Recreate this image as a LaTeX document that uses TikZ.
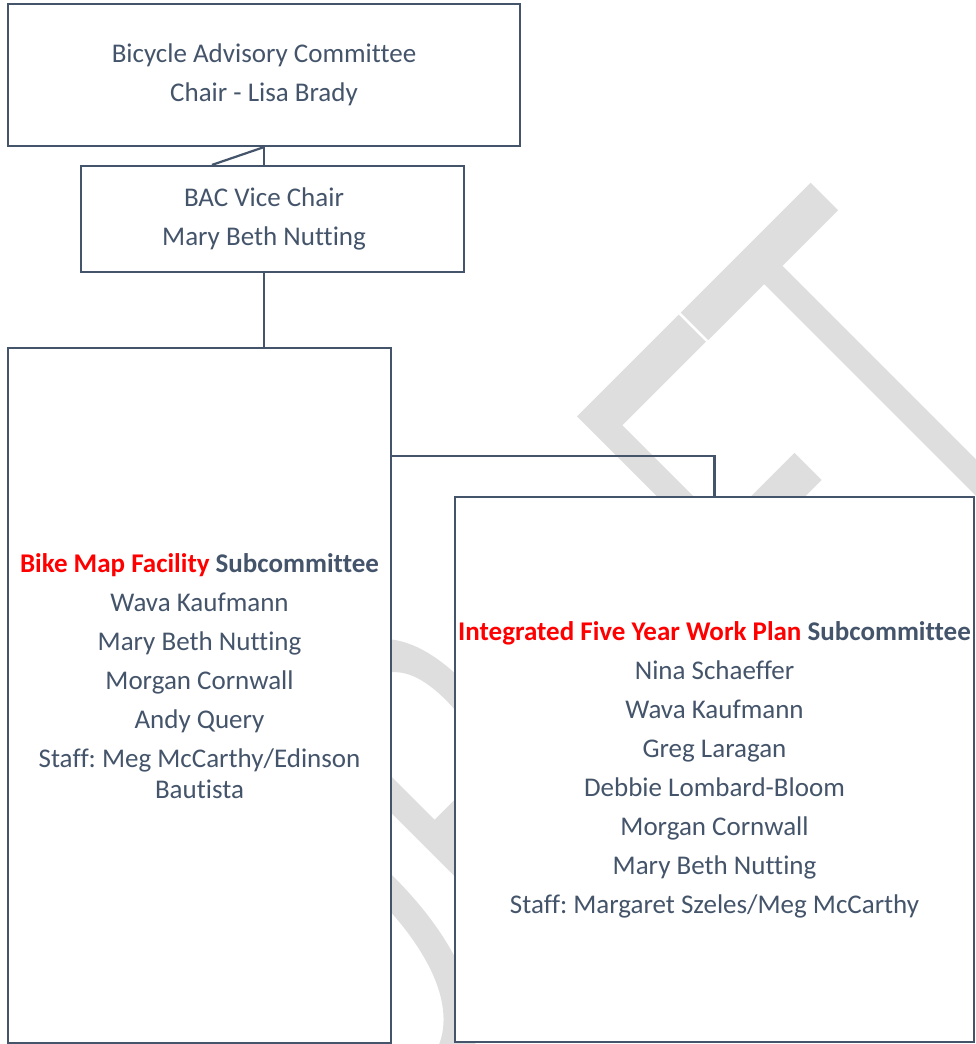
\documentclass[tikz,border=0pt]{standalone}
\usepackage{graphicx}
\usepackage{fontspec}
\setmainfont{Carlito}[Ligatures=NoCommon]
\newfontfamily\wmfont{Lato Light}[RawFeature={embolden=3}]
\definecolor{slate}{HTML}{44546A}
\definecolor{alert}{HTML}{FF0000}
\definecolor{wmgray}{HTML}{DEDEDE}
\frenchspacing
% one watermark letter, set in a slot of given width
\newcommand\wmletter[2]{\makebox[#1pt][c]{\scalebox{0.6}[1]{#2}}}

\begin{document}
\begin{tikzpicture}[x=1pt, y=-1pt,
        box/.style={draw=slate, fill=white, line width=2.2pt, text=slate, align=center,
            font=\fontsize{27}{39}\selectfont, inner sep=0pt},
        link/.style={draw=slate, line width=2.2pt}]
    \useasboundingbox (0,0) rectangle (976,1044);
    % watermark behind the boxes
    \begin{scope}
        \clip (0,0) rectangle (976,1044);
        \node[anchor=base west, rotate=45, inner sep=0pt, text=wmgray,
            font=\wmfont\fontsize{528}{528}\selectfont] (draft) at (368,1165)
            {\wmletter{231}{D}\wmletter{204}{R}\wmletter{217}{A}\wmletter{172}{F}\wmletter{183}{T}};
    \end{scope}
    \node[box, minimum width=512pt, minimum height=142pt] (chair) at (264,75)
        {Bicycle Advisory Committee\\Chair - Lisa Brady};
    \node[box, minimum width=383pt, minimum height=106pt] (vice) at (272.5,219)
        {BAC Vice Chair\hspace*{17pt}\\Mary Beth Nutting\hspace*{17pt}};
    \node[box, minimum width=383pt, minimum height=695pt] (bike) at (199.5,695.5)
        {\textbf{\textcolor{alert}{Bike Map Facility} Subcommittee}\\Wava Kaufmann\\Mary Beth Nutting\\Morgan Cornwall\\Andy Query\\Staff: Meg McCarthy/Edinson\\[-8pt]Bautista\\\mbox{}};
    \node[box, minimum width=519pt, minimum height=545pt] (plan) at (714.5,769.5)
        {\textbf{\textcolor{alert}{Integrated Five Year Work Plan} Subcommittee}\\Nina Schaeffer\\Wava Kaufmann\\Greg Laragan\\Debbie Lombard-Bloom\\Morgan Cornwall\\Mary Beth Nutting\\Staff: Margaret Szeles/Meg McCarthy};
    \draw[link] (chair.south) -- (chair.south |- vice.north);
    \draw[link] (chair.south) -- ([xshift=-60.5pt]vice.north);
    \draw[link] (chair.south |- vice.south) -- (chair.south |- bike.north);
    \draw[link] ([yshift=-109pt]bike.north east) -| (plan.north);
\end{tikzpicture}
\end{document}
